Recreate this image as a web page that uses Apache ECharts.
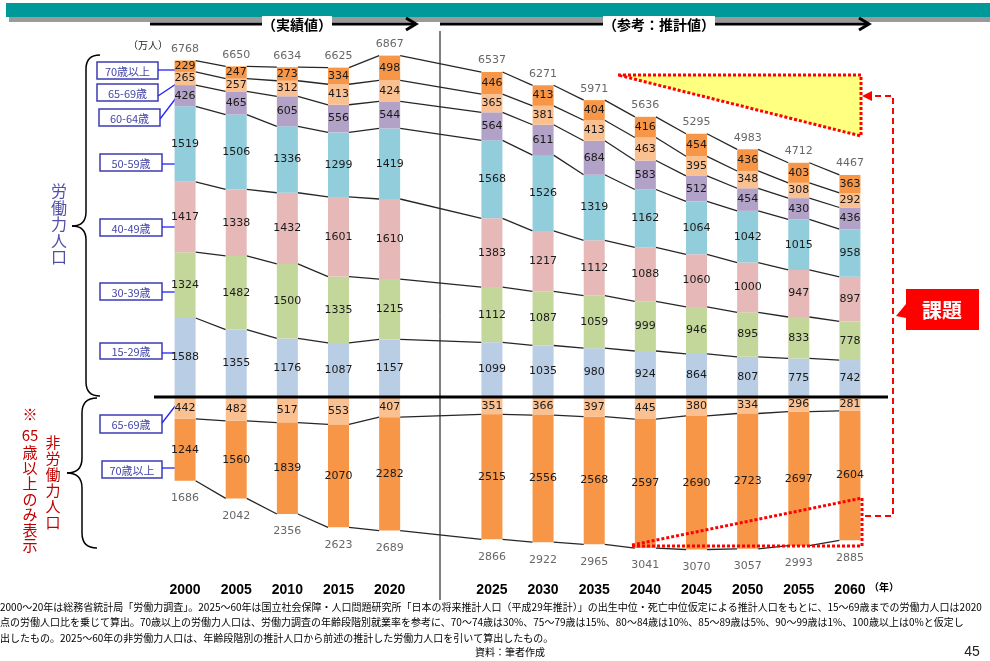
<!DOCTYPE html>
<html lang="ja">
<head>
    <meta charset="UTF-8">
    <title>労働力人口と非労働力人口の推移</title>
    <style>
        html, body { margin: 0; padding: 0; background: #fff; }
        #main { width: 990px; height: 661px; }
    </style>
</head>
<body>
<div id="main"></div>
<script src="https://cdn.jsdelivr.net/npm/echarts@6/dist/echarts.min.js"></script>
<script>
    // 年（2020 と 2025 の間は空欄で区切り）
    var years = ['2000', '2005', '2010', '2015', '2020', '', '2025', '2030', '2035', '2040', '2045', '2050', '2055', '2060'];

    // 労働力人口（万人）
    var lf1529 = [1588, 1355, 1176, 1087, 1157, null, 1099, 1035, 980, 924, 864, 807, 775, 742];
    var lf3039 = [1324, 1482, 1500, 1335, 1215, null, 1112, 1087, 1059, 999, 946, 895, 833, 778];
    var lf4049 = [1417, 1338, 1432, 1601, 1610, null, 1383, 1217, 1112, 1088, 1060, 1000, 947, 897];
    var lf5059 = [1519, 1506, 1336, 1299, 1419, null, 1568, 1526, 1319, 1162, 1064, 1042, 1015, 958];
    var lf6064 = [426, 465, 605, 556, 544, null, 564, 611, 684, 583, 512, 454, 430, 436];
    var lf6569 = [265, 257, 312, 413, 424, null, 365, 381, 413, 463, 395, 348, 308, 292];
    var lf70 = [229, 247, 273, 334, 498, null, 446, 413, 404, 416, 454, 436, 403, 363];
    var lfTotal = [6768, 6650, 6634, 6625, 6867, null, 6537, 6271, 5971, 5636, 5295, 4983, 4712, 4467];

    // 非労働力人口（65歳以上のみ）
    var nl6569 = [442, 482, 517, 553, 407, null, 351, 366, 397, 445, 380, 334, 296, 281];
    var nl70 = [1244, 1560, 1839, 2070, 2282, null, 2515, 2556, 2568, 2597, 2690, 2723, 2697, 2604];
    var nlTotal = [1686, 2042, 2356, 2623, 2689, null, 2866, 2922, 2965, 3041, 3070, 3057, 2993, 2885];

    var lfSeries = [
        {name: '15-29歳', data: lf1529, color: '#B9CDE5'},
        {name: '30-39歳', data: lf3039, color: '#C4D79B'},
        {name: '40-49歳', data: lf4049, color: '#E6B9B8'},
        {name: '50-59歳', data: lf5059, color: '#92CDDC'},
        {name: '60-64歳', data: lf6064, color: '#B3A2C7'},
        {name: '65-69歳', data: lf6569, color: '#FAC090'},
        {name: '70歳以上', data: lf70, color: '#F79646'}
    ];
    var nlSeries = [
        {name: '非65-69歳', data: nl6569, color: '#FAC090'},
        {name: '非70歳以上', data: nl70, color: '#F79646'}
    ];

    var barW = 21;
    var jp = 'Noto Sans CJK JP';

    function neg(arr) {
        return arr.map(function (v) { return v == null ? '-' : -v; });
    }
    function dash(arr) {
        return arr.map(function (v) { return v == null ? '-' : v; });
    }

    // 各棒の区切り位置（累積値）
    function bounds(i) {
        var b = [], s = 0;
        lfSeries.forEach(function (se) { s += se.data[i]; b.push(s); });
        var n = 0;
        nlSeries.forEach(function (se) { n += se.data[i]; b.push(-n); });
        return b;
    }

    function renderLinks(params, api) {
        var i = params.dataIndex;
        if (lfTotal[i] == null) return;
        var j = i + 1;
        if (j < years.length && lfTotal[j] == null) j++;
        if (j >= years.length) return;
        var bi = bounds(i), bj = bounds(j);
        var kids = [];
        for (var k = 0; k < bi.length; k++) {
            var p1 = api.coord([i, bi[k]]);
            var p2 = api.coord([j, bj[k]]);
            kids.push({
                type: 'line',
                shape: {x1: p1[0] + barW / 2, y1: p1[1], x2: p2[0] - barW / 2, y2: p2[1]},
                style: {stroke: '#262626', lineWidth: 1.3}
            });
        }
        return {type: 'group', children: kids};
    }

    var series = [];
    lfSeries.forEach(function (se) {
        series.push({
            name: se.name, type: 'bar', stack: 'all', barWidth: barW,
            data: dash(se.data),
            itemStyle: {color: se.color},
            label: {show: true, position: 'inside', color: '#1a1a1a', fontSize: 11, fontFamily: 'DejaVu Sans'}
        });
    });
    nlSeries.forEach(function (se) {
        series.push({
            name: se.name, type: 'bar', stack: 'all', barWidth: barW,
            data: neg(se.data),
            itemStyle: {color: se.color},
            label: {
                show: true, position: 'inside', color: '#1a1a1a', fontSize: 11, fontFamily: 'DejaVu Sans',
                formatter: function (p) { return Math.abs(p.value); }
            }
        });
    });
    series.push({
        type: 'custom', renderItem: renderLinks, clip: false, z: 1,
        data: years.map(function (y, i) { return [i, 0]; })
    });
    series.push({
        type: 'scatter', symbolSize: 0, data: dash(lfTotal),
        label: {show: true, position: 'top', distance: 6, color: '#404040', fontSize: 11, fontFamily: 'DejaVu Sans',
            formatter: function (p) { return p.value; }}
    });
    series.push({
        type: 'scatter', symbolSize: 0, data: neg(nlTotal),
        label: {show: true, position: 'bottom', distance: 12, color: '#404040', fontSize: 11, fontFamily: 'DejaVu Sans',
            formatter: function (p) { return Math.abs(p.value); }}
    });

    var chart = echarts.init(document.getElementById('main'));
    chart.setOption({
        animation: false,
        backgroundColor: '#fff',
        grid: {left: 159.5, right: 114.5, top: 49, bottom: 110},
        xAxis: {
            type: 'category', data: years,
            axisLine: {show: false}, axisTick: {show: false},
            axisLabel: {margin: 32, color: '#000', fontWeight: 'bold', fontSize: 14, fontFamily: 'Liberation Sans'}
        },
        yAxis: {type: 'value', min: -3100, max: 7000, show: false, splitLine: {show: false}},
        series: series
    });

    var y0 = chart.convertToPixel({gridIndex: 0}, [0, 0])[1];

    function box(text, x, y, w, h) {
        return {
            type: 'group', children: [
                {type: 'rect', shape: {x: x, y: y, width: w, height: h},
                    style: {fill: '#fff', stroke: '#3C3CB4', lineWidth: 1.5}},
                {type: 'text', style: {text: text, x: x + w / 2, y: y + h / 2 + 1, align: 'center', verticalAlign: 'middle',
                    fill: '#4646A8', font: '11px "' + jp + '"'}}
            ]
        };
    }
    function link(x1, y1, x2, y2) {
        return {type: 'line', shape: {x1: x1, y1: y1, x2: x2, y2: y2}, style: {stroke: '#2222FF', lineWidth: 1.3}};
    }
    function vtext(str, x, y, color, size, step) {
        return {type: 'text', style: {text: str.split('').join('\n'), x: x, y: y, align: 'center', verticalAlign: 'top',
            fill: color, font: size + 'px "' + jp + '"', lineHeight: step}};
    }
    // 波括弧 "{"：上端 yt、先端 ym、下端 yb
    function brace(xv, xe, xt, yt, ym, yb) {
        var st = {stroke: '#000', lineWidth: 1.5, fill: null};
        var r = xe - xv;
        return {
            type: 'group', children: [
                {type: 'bezierCurve', shape: {x1: xe, y1: yt, x2: xv, y2: yt + r, cpx1: xv, cpy1: yt}, style: st},
                {type: 'line', shape: {x1: xv, y1: yt + r, x2: xv, y2: ym - r}, style: st},
                {type: 'bezierCurve', shape: {x1: xv, y1: ym - r, x2: xt, y2: ym, cpx1: xv, cpy1: ym}, style: st},
                {type: 'bezierCurve', shape: {x1: xt, y1: ym, x2: xv, y2: ym + r, cpx1: xv, cpy1: ym}, style: st},
                {type: 'line', shape: {x1: xv, y1: ym + r, x2: xv, y2: yb - r}, style: st},
                {type: 'bezierCurve', shape: {x1: xv, y1: yb - r, x2: xe, y2: yb, cpx1: xv, cpy1: yb}, style: st}
            ]
        };
    }

    var foot = [
        '2000～20年は総務省統計局「労働力調査」。2025～60年は国立社会保障・人口問題研究所「日本の将来推計人口（平成29年推計）」の出生中位・死亡中位仮定による推計人口をもとに、15～69歳までの労働力人口は2020',
        '点の労働人口比を乗じて算出。70歳以上の労働力人口は、労働力調査の年齢段階別就業率を参考に、70～74歳は30%、75～79歳は15%、80～84歳は10%、85～89歳は5%、90～99歳は1%、100歳以上は0%と仮定し',
        '出したもの。2025～60年の非労働力人口は、年齢段階別の推計人口から前述の推計した労働力人口を引いて算出したもの。'
    ];

    var dotted = {stroke: '#FF0000', lineWidth: 3, lineDash: [3, 2]};

    var g = [
        // 上部の帯
        {type: 'rect', shape: {x: 9, y: 17, width: 981, height: 5}, style: {fill: '#9a9a9a'}},
        {type: 'rect', shape: {x: 6, y: 3, width: 984, height: 14}, style: {fill: '#009999'}},
        // 矢印
        {type: 'line', shape: {x1: 150, y1: 24, x2: 415, y2: 24}, style: {stroke: '#000', lineWidth: 3}},
        {type: 'polyline', shape: {points: [[406, 18], [416, 24], [406, 30]]}, style: {stroke: '#000', lineWidth: 3, fill: null}},
        {type: 'line', shape: {x1: 440, y1: 24, x2: 868, y2: 24}, style: {stroke: '#000', lineWidth: 3}},
        {type: 'polyline', shape: {points: [[859, 18], [869, 24], [859, 30]]}, style: {stroke: '#000', lineWidth: 3, fill: null}},
        {type: 'text', style: {text: '（実績値）', x: 297, y: 25, align: 'center', verticalAlign: 'middle',
            fill: '#000', font: 'bold 14px "' + jp + '"', backgroundColor: '#fff', padding: [2, 0]}},
        {type: 'text', style: {text: '（参考：推計値）', x: 659, y: 25, align: 'center', verticalAlign: 'middle',
            fill: '#000', font: 'bold 14px "' + jp + '"', backgroundColor: '#fff', padding: [2, 0]}},
        {type: 'text', style: {text: '（万人）', x: 148, y: 45, align: 'center', verticalAlign: 'middle',
            fill: '#222', font: '10px "' + jp + '"'}},
        // 区切り線
        {type: 'line', shape: {x1: 440, y1: 31, x2: 440, y2: 600}, style: {stroke: '#000', lineWidth: 1}},
        {type: 'line', z: 50, shape: {x1: 154, y1: y0, x2: 888, y2: y0}, style: {stroke: '#000', lineWidth: 3}},
        // 凡例ボックス
        box('70歳以上', 97, 62, 61, 17),
        box('65-69歳', 97, 84, 61, 17),
        box('60-64歳', 99, 109, 61, 17),
        box('50-59歳', 100, 154, 62, 17),
        box('40-49歳', 100, 219, 62, 17),
        box('30-39歳', 100, 283, 62, 17),
        box('15-29歳', 100, 343, 62, 16),
        box('65-69歳', 100, 415, 62, 18),
        box('70歳以上', 102, 461, 60, 17),
        link(158, 70, 176, 70),
        link(158, 96, 176, 84),
        link(160, 119, 176, 98),
        link(162, 164, 176, 164),
        link(162, 227, 176, 227),
        link(162, 292, 176, 292),
        link(162, 353, 176, 353),
        link(162, 423, 176, 405),
        link(162, 468, 176, 468),
        // 波括弧
        brace(86, 100, 72, 55, 226, 396),
        brace(82, 97, 67, 398, 473, 548),
        vtext('労働力人口', 59, 183, '#5050A8', 16, 16.5),
        vtext('非労働力人口', 53, 434, '#C00000', 15, 16),
        vtext('※', 30, 406, '#C00000', 15, 16),
        {type: 'text', style: {text: '65', x: 30, y: 428, align: 'center', verticalAlign: 'top', fill: '#C00000', font: '15px "' + jp + '"'}},
        vtext('歳以上のみ表示', 30, 445, '#C00000', 15, 15.5),
        // 課題の注記
        {type: 'polygon', z: 100, shape: {points: [[618, 75], [861, 75], [861, 136]]},
            style: {fill: '#FFFF80', stroke: '#FF0000', lineWidth: 3, lineDash: [3, 2]}},
        {type: 'line', z: 100, shape: {x1: 632, y1: 546, x2: 862, y2: 546}, style: dotted},
        {type: 'line', z: 100, shape: {x1: 862, y1: 546, x2: 862, y2: 498}, style: dotted},
        {type: 'line', z: 100, shape: {x1: 632, y1: 545, x2: 862, y2: 498}, style: dotted},
        {type: 'polyline', z: 100, shape: {points: [[865, 516], [893, 516], [893, 96], [870, 96]]},
            style: {stroke: '#FF0000', lineWidth: 2, lineDash: [6, 4], fill: null}},
        {type: 'polygon', z: 100, shape: {points: [[862, 96], [872, 91], [872, 101]]}, style: {fill: '#FF0000'}},
        {type: 'polygon', shape: {points: [[906, 289], [979, 289], [979, 330], [906, 330], [906, 318], [896, 316], [906, 304]]},
            style: {fill: '#FF0000'}},
        {type: 'text', style: {text: '課題', x: 942, y: 310, align: 'center', verticalAlign: 'middle',
            fill: '#fff', font: 'bold 20px "' + jp + '"'}},
        {type: 'text', style: {text: '（年）', x: 884, y: 587, align: 'center', verticalAlign: 'middle',
            fill: '#000', font: 'bold 10px "' + jp + '"'}},
        // 注記
        {type: 'text', style: {text: '資料：筆者作成', x: 510, y: 652, align: 'center', verticalAlign: 'middle',
            fill: '#000', font: '10px "' + jp + '"'}},
        {type: 'text', style: {text: '45', x: 972, y: 652, align: 'center', verticalAlign: 'middle',
            fill: '#222', font: '14px "Liberation Sans"'}}
    ];
    foot.forEach(function (t, k) {
        g.push({type: 'text', style: {text: t, x: 0, y: 607 + k * 15.5, align: 'left', verticalAlign: 'middle',
            fill: '#000', font: '10px "' + jp + '"'}});
    });

    chart.setOption({graphic: g});
</script>
</body>
</html>
